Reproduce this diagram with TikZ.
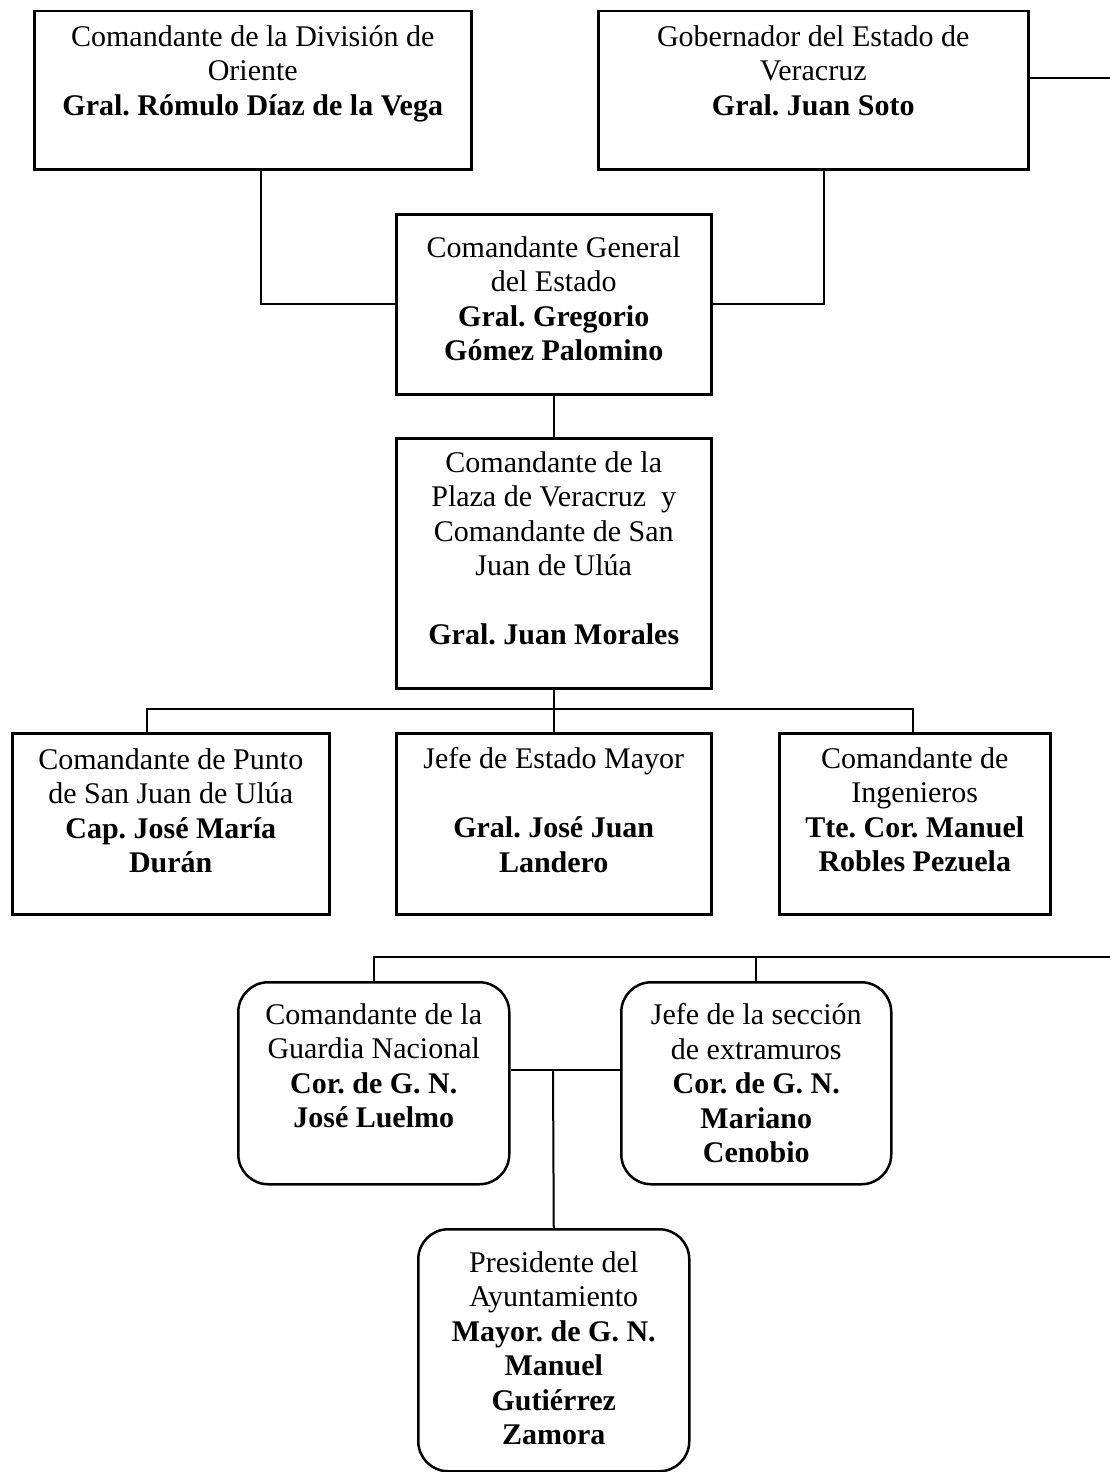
\documentclass[tikz,border=0pt]{standalone}
\usepackage{fontspec}
\setmainfont{Liberation Serif}
\frenchspacing
\usetikzlibrary{positioning}

\begin{document}
\begin{tikzpicture}[x=0.4pt, y=-0.4pt,
		cargo/.style={draw, line width=1pt, inner sep=0pt, anchor=north west},
		redondo/.style={cargo, rounded corners=12pt},
		texto/.style={align=center, inner sep=0pt, font=\fontsize{12}{13.8}\selectfont},
		linea/.style={line width=0.8pt}]
		\useasboundingbox (0,0) rectangle (1110,1472);

		% Division de Oriente
		\node[cargo, minimum width=174.8pt, minimum height=63.2pt] (oriente) at (33,10) {};
		\node[texto, below=6pt of oriente.north] (oriente-t) {Comandante de la División de\\Oriente\\\textbf{Gral. Rómulo Díaz de la Vega}};

		% Gobernador
		\node[cargo, minimum width=172pt, minimum height=63.2pt] (gobernador) at (597,10) {};
		\node[texto, below=6pt of gobernador.north] (gobernador-t) {Gobernador del Estado de\\Veracruz\\\textbf{Gral. Juan Soto}};

		% Comandante General
		\node[cargo, minimum width=126pt, minimum height=72pt] (general) at (395,213) {};
		\node[texto, below=9.2pt of general.north] (general-t) {Comandante General\\del Estado\\\textbf{Gral. Gregorio}\\\textbf{Gómez Palomino}};

		% Plaza de Veracruz
		\node[cargo, minimum width=126pt, minimum height=100pt] (plaza) at (395,437) {};
		\node[texto, below=5.6pt of plaza.north] (plaza-t) {Comandante de la\\Plaza de Veracruz\ \ y\\Comandante de San\\Juan de Ulúa\\[13.8pt]\textbf{Gral. Juan Morales}};

		% Punto, Estado Mayor, Ingenieros
		\node[cargo, minimum width=126.8pt, minimum height=72.4pt] (punto) at (11,732) {};
		\node[texto, below=6.4pt of punto.north] (punto-t) {Comandante de Punto\\de San Juan de Ulúa\\\textbf{Cap. José María}\\\textbf{Durán}};

		\node[cargo, minimum width=126pt, minimum height=72.4pt] (estado) at (395,732) {};
		\node[texto, below=6pt of estado.north] (estado-t) {Jefe de Estado Mayor\\[13.8pt]\textbf{Gral. José Juan}\\\textbf{Landero}};

		\node[cargo, minimum width=108.4pt, minimum height=72.4pt] (ingenieros) at (778,732) {};
		\node[texto, below=6pt of ingenieros.north] (ingenieros-t) {Comandante de\\Ingenieros\\\textbf{Tte. Cor. Manuel}\\\textbf{Robles Pezuela}};

		% Guardia Nacional, extramuros
		\node[redondo, minimum width=108.4pt, minimum height=80.8pt] (guardia) at (237,981) {};
		\node[texto, below=8.8pt of guardia.north] (guardia-t) {Comandante de la\\Guardia Nacional\\\textbf{Cor. de G. N.}\\\textbf{José Luelmo}};

		\node[redondo, minimum width=108pt, minimum height=80.8pt] (extramuros) at (620,981) {};
		\node[texto, below=8.8pt of extramuros.north] (extramuros-t) {Jefe de la sección\\de extramuros\\\textbf{Cor. de G. N.}\\\textbf{Mariano}\\\textbf{Cenobio}};

		% Ayuntamiento
		\node[redondo, minimum width=108.4pt, minimum height=96.8pt] (ayuntamiento) at (417,1228) {};
		\node[texto, below=9.2pt of ayuntamiento.north] (ayuntamiento-t) {Presidente del\\Ayuntamiento\\\textbf{Mayor. de G. N.}\\\textbf{Manuel}\\\textbf{Gutiérrez}\\\textbf{Zamora}};

		% puntos de las lineas
		\coordinate (gob-sal) at (1110,78);
		\coordinate (bus-izq) at (147,709);
		\coordinate (bus-der) at (913,709);
		\coordinate (bus2-der) at (1110,957);
		\coordinate (medio) at (553,1070);

		% Lineas arriba
		\draw[linea] ([xshift=3.2pt]oriente.south) |- (general.west);
		\draw[linea] ([xshift=4.4pt]gobernador.south) |- (general.east);
		\draw[linea] (gobernador.east |- gob-sal) -- (gob-sal);
		\draw[linea] (general.south) -- (plaza.north);

		% Lineas a los jefes
		\draw[linea] (plaza.south) -- (estado.north);
		\draw[linea] (bus-izq |- punto.north) -- (bus-izq) -- (bus-der) -- (bus-der |- ingenieros.north);

		% Lineas abajo
		\draw[linea] (guardia.north) |- (bus2-der);
		\draw[linea] (extramuros.north) -- (extramuros.north |- bus2-der);
		\draw[linea] (guardia.east |- medio) -- (extramuros.west |- medio);
		\draw[linea] (medio) -- (ayuntamiento.north);
	\end{tikzpicture}
\end{document}
